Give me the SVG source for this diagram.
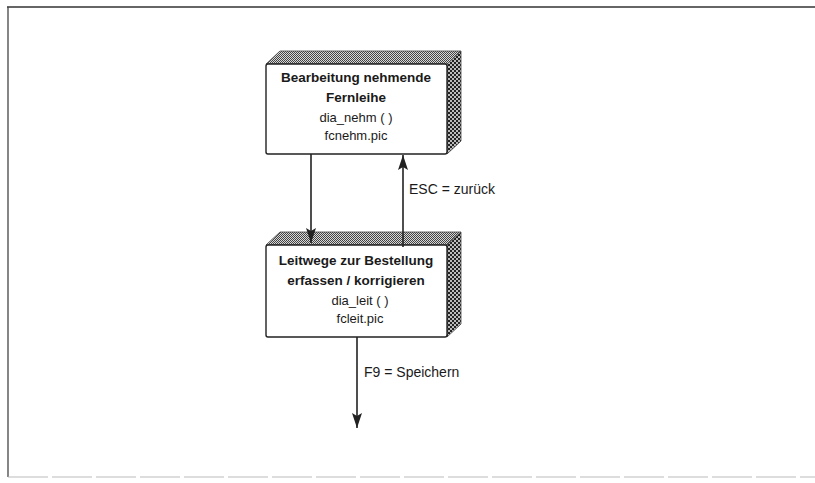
<svg xmlns="http://www.w3.org/2000/svg" width="815" height="483" viewBox="0 0 815 483">
<defs>
<pattern id="dotTop" width="2" height="2" patternUnits="userSpaceOnUse">
<rect width="2" height="2" fill="#d8d8d8"/>
<rect width="1" height="1" fill="#444"/>
<rect x="1" y="1" width="1" height="1" fill="#444"/>
</pattern>
<pattern id="dotSide" width="4" height="4" patternUnits="userSpaceOnUse">
<rect width="4" height="4" fill="#bbb"/>
<rect width="2" height="2" fill="#222"/>
<rect x="2" y="2" width="2" height="2" fill="#222"/>
</pattern>
<marker id="arr" viewBox="0 0 15 10" refX="15" refY="5" markerWidth="15" markerHeight="10" markerUnits="userSpaceOnUse" orient="auto">
<path d="M0,0 L15,5 L0,10 L3,5 Z" fill="#222"/>
</marker>
</defs>
<style>
.front{fill:#fff;stroke:#222;stroke-width:1.4}
.top{fill:url(#dotTop);stroke:#444;stroke-width:0.8}
.side{fill:url(#dotSide);stroke:#444;stroke-width:0.8}
.b{font-family:"Liberation Sans",Arial,sans-serif;font-size:13.5px;font-weight:bold;fill:#1a1a1a;text-anchor:middle}
.r{font-family:"Liberation Sans",Arial,sans-serif;font-size:13px;fill:#1a1a1a;text-anchor:middle}
.lbl{font-family:"Liberation Sans",Arial,sans-serif;font-size:14px;fill:#1a1a1a}
.con{stroke:#222;stroke-width:1.6;fill:none}
</style>
<rect width="815" height="483" fill="#fff"/>
<g id="frame">
<path d="M7,7 L815,7" stroke="#333" stroke-width="1.5"/>
<path d="M8,7 L8,477" stroke="#444" stroke-width="1.3"/>
<path d="M8,477 L815,477" stroke="#bbb" stroke-width="1" stroke-dasharray="40 4"/>
</g>
<g id="node-nehm">
<path class="top" d="M266,64 L280,51 L461,51 L447,64 Z"/>
<path class="side" d="M447,64 L461,51 L461,141 L447,154 Z"/>
<rect class="front" x="266" y="64" width="181" height="90" rx="2"/>
<text class="b" x="356" y="82">Bearbeitung nehmende</text>
<text class="b" x="356" y="102">Fernleihe</text>
<text class="r" x="356" y="122">dia_nehm ( )</text>
<text class="r" x="356" y="140">fcnehm.pic</text>
</g>
<g id="node-leit">
<path class="top" d="M266,245 L280,232 L461,232 L447,245 Z"/>
<path class="side" d="M447,245 L461,232 L461,324 L447,337 Z"/>
<rect class="front" x="266" y="245" width="181" height="92" rx="2"/>
<text class="b" x="356" y="265">Leitwege zur Bestellung</text>
<text class="b" x="356" y="285">erfassen / korrigieren</text>
<text class="r" x="360" y="305">dia_leit ( )</text>
<text class="r" x="360" y="323">fcleit.pic</text>
</g>
<g id="connectors">
<path class="con" d="M311,154 L311,243" marker-end="url(#arr)"/>
<path class="con" d="M403,247 L403,155" marker-end="url(#arr)"/>
<text class="lbl" x="409" y="194">ESC = zurück</text>
<path class="con" d="M357,337 L357,428" marker-end="url(#arr)"/>
<text class="lbl" x="364" y="377">F9 = Speichern</text>
</g>
</svg>
